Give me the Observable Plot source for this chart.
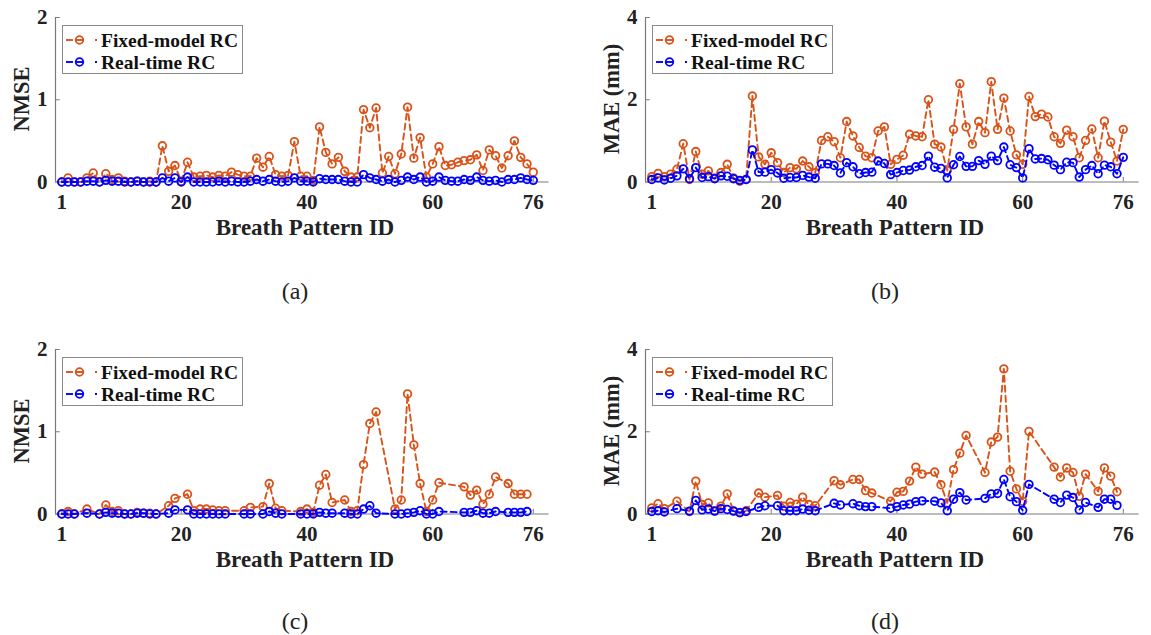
<!DOCTYPE html>
<html>
<head>
<meta charset="utf-8">
<script src="https://cdn.jsdelivr.net/npm/d3@7"></script>
<script src="https://cdn.jsdelivr.net/npm/@observablehq/plot@0.6"></script>
<style>
  html, body { margin: 0; padding: 0; background: #fff; }
  #wrap { position: relative; width: 1151px; height: 635px; background: #fff; overflow: hidden;
          font-family: "Liberation Serif", "Times New Roman", serif; color: #222; }
  .panel { position: absolute; width: 575px; height: 303px; }
  .panel svg.plot { position: absolute; left: 0; top: 0; }
  .ytitle { position: absolute; font-weight: bold; font-size: 22.5px; white-space: nowrap;
            transform: translate(-50%, -50%) rotate(-90deg); }
  .xtitle { position: absolute; font-weight: bold; font-size: 23px; white-space: nowrap;
            transform: translate(-50%, -50%); }
  .letter { position: absolute; font-size: 24px; line-height: 1; white-space: nowrap; transform: translate(-50%, -50%); }
  .legend { position: absolute; }
</style>
</head>
<body>
<div id="wrap"></div>
<script>
// ---------------- data ----------------
const xTicks = [1, 20, 40, 60, 76];
const nmseTicks = [0, 1, 2];
const maeTicks = [0, 2, 4];

const idsAll = [1,2,3,4,5,6,7,8,9,10,11,12,13,14,15,16,17,18,19,20,21,22,23,24,25,26,27,28,29,30,
  31,32,33,34,35,36,37,38,39,40,41,42,43,44,45,46,47,48,49,50,51,52,53,54,55,56,57,58,59,60,
  61,62,63,64,65,66,67,68,69,70,71,72,73,74,75,76];

// (a) NMSE, all patterns
const nmseFixedA = [0.0,0.05,0.0,0.0,0.05,0.11,0.0,0.1,0.03,0.05,
  0.01,0.0,0.01,0.0,0.01,0.0,0.44,0.13,0.2,0.01,
  0.24,0.06,0.07,0.08,0.06,0.08,0.07,0.12,0.09,0.07,
  0.07,0.29,0.18,0.31,0.09,0.07,0.08,0.49,0.07,0.07,
  0.02,0.67,0.36,0.22,0.3,0.13,0.06,0.06,0.88,0.66,
  0.9,0.11,0.31,0.1,0.34,0.91,0.29,0.54,0.06,0.22,
  0.43,0.2,0.21,0.24,0.26,0.27,0.33,0.14,0.39,0.32,
  0.17,0.32,0.5,0.3,0.22,0.12];
const nmseRealA = [0.0,0.0,0.0,0.0,0.01,0.01,0.0,0.02,0.01,0.01,
  0.0,0.0,0.01,0.0,0.0,0.0,0.05,0.01,0.05,0.0,
  0.06,0.0,0.0,0.0,0.0,0.01,0.0,0.01,0.0,0.0,
  0.01,0.03,0.01,0.03,0.01,0.0,0.01,0.05,0.01,0.01,
  0.0,0.04,0.03,0.03,0.03,0.01,0.0,0.0,0.09,0.05,
  0.03,0.01,0.03,0.0,0.02,0.06,0.03,0.06,0.0,0.01,
  0.06,0.02,0.01,0.01,0.03,0.02,0.06,0.02,0.01,0.02,
  0.0,0.03,0.03,0.05,0.03,0.02];

// (b) MAE (mm), all patterns
const maeFixedB = [0.13,0.21,0.13,0.19,0.31,0.93,0.06,0.74,0.19,0.27,
  0.1,0.23,0.43,0.1,0.02,0.06,2.09,0.61,0.43,0.71,
  0.47,0.23,0.35,0.32,0.51,0.37,0.23,1.01,1.1,0.98,
  0.59,1.47,1.12,0.84,0.63,0.59,1.24,1.34,0.43,0.55,
  0.65,1.16,1.12,1.1,2.0,0.92,0.85,0.28,1.28,2.39,
  1.34,0.92,1.47,1.2,2.44,1.28,2.04,1.24,0.66,0.43,
  2.08,1.59,1.65,1.58,1.1,0.94,1.26,1.1,0.59,1.01,
  1.29,0.59,1.48,0.97,0.51,1.28];
const maeRealB = [0.06,0.1,0.05,0.09,0.15,0.32,0.08,0.35,0.11,0.13,
  0.08,0.15,0.14,0.08,0.04,0.06,0.78,0.24,0.24,0.3,
  0.22,0.09,0.11,0.11,0.16,0.12,0.09,0.44,0.44,0.4,
  0.22,0.47,0.37,0.2,0.23,0.24,0.51,0.45,0.18,0.23,
  0.28,0.29,0.37,0.4,0.63,0.36,0.33,0.1,0.42,0.62,
  0.38,0.38,0.52,0.43,0.63,0.52,0.85,0.42,0.35,0.1,
  0.81,0.56,0.57,0.54,0.41,0.3,0.48,0.47,0.12,0.3,
  0.4,0.2,0.41,0.37,0.2,0.6];

// (c), (d): subset of patterns
const idsSub = [1,2,3,5,7,8,9,10,11,12,13,14,15,16,18,19,21,22,23,24,25,26,27,30,31,33,34,35,36,
  39,40,41,42,43,44,46,47,48,49,50,51,54,55,56,57,58,59,60,61,65,66,67,68,69,70,72,73,74,75];

const nmseFixedC = [0.0,0.03,0.0,0.06,0.0,0.11,0.03,0.04,0.0,0.0,0.02,0.01,0.01,0.0,0.1,0.19,
  0.24,0.04,0.06,0.06,0.05,0.04,0.04,0.04,0.08,0.09,0.37,0.07,0.04,
  0.03,0.06,0.02,0.35,0.48,0.14,0.17,0.03,0.04,0.6,1.1,1.24,0.06,0.17,1.46,0.84,0.37,0.03,0.17,0.38,
  0.33,0.23,0.29,0.12,0.24,0.45,0.37,0.24,0.24,0.24];
const nmseRealC = [0.0,0.0,0.0,0.01,0.0,0.02,0.01,0.01,0.0,0.0,0.01,0.01,0.0,0.0,0.01,0.05,
  0.05,0.0,0.0,0.0,0.0,0.0,0.0,0.0,0.0,0.0,0.03,0.01,0.0,
  0.0,0.0,0.0,0.02,0.01,0.01,0.01,0.0,0.0,0.06,0.1,0.01,0.0,0.0,0.01,0.02,0.04,0.0,0.0,0.03,
  0.02,0.02,0.04,0.01,0.01,0.03,0.02,0.02,0.02,0.03];

const maeFixedD = [0.15,0.25,0.13,0.31,0.06,0.8,0.23,0.27,0.08,0.19,0.49,0.08,0.04,0.08,0.51,0.41,
  0.45,0.19,0.28,0.24,0.41,0.23,0.2,0.81,0.71,0.84,0.84,0.57,0.51,
  0.31,0.53,0.55,0.8,1.14,0.97,1.02,0.71,0.27,1.08,1.48,1.91,1.01,1.75,1.87,3.53,1.04,0.61,0.31,2.01,
  1.14,0.9,1.12,1.01,0.43,0.97,0.55,1.12,0.92,0.54];
const maeRealD = [0.06,0.08,0.05,0.13,0.07,0.33,0.1,0.12,0.07,0.13,0.11,0.07,0.03,0.06,0.16,0.2,
  0.2,0.08,0.08,0.08,0.12,0.09,0.08,0.26,0.22,0.25,0.2,0.18,0.18,
  0.14,0.18,0.22,0.24,0.3,0.32,0.31,0.27,0.08,0.36,0.52,0.34,0.38,0.49,0.5,0.84,0.42,0.3,0.09,0.72,
  0.36,0.28,0.46,0.4,0.1,0.28,0.16,0.36,0.36,0.21];

const seriesNames = ["Fixed-model RC", "Real-time RC"];
const ORANGE = "#D95319";
const BLUE = "#0000FF";
const AXIS = "#7a7a7a";

// ---------------- drawing ----------------
function makePlot(ids, fixed, real, ymax, yticks) {
  const F = ids.map((id, i) => ({id, v: fixed[i]}));
  const R = ids.map((id, i) => ({id, v: real[i]}));
  return Plot.plot({
    width: 575, height: 242,
    marginLeft: 55, marginRight: 26.5, marginTop: 17, marginBottom: 60.5,
    x: {domain: [0, 78.5]},
    y: {domain: [0, ymax]},
    style: {fontFamily: "'Liberation Serif', 'Times New Roman', serif", fontWeight: "bold",
            fontSize: "21px", color: "#222", background: "transparent", overflow: "visible"},
    marks: [
      Plot.axisX({ticks: xTicks, tickSize: 0, tickPadding: 12, tickFormat: d => String(d), label: null}),
      Plot.axisY({ticks: yticks, tickSize: 0, tickPadding: 8, tickFormat: d => String(d), label: null}),
      Plot.ruleY([0], {stroke: AXIS, strokeWidth: 1.2}),
      Plot.ruleX([0], {stroke: AXIS, strokeWidth: 1.2}),
      Plot.ruleX(xTicks, {x: d => d, y1: 0, y2: ymax * 0.028, stroke: AXIS}),
      Plot.ruleY(yticks, {y: d => d, x1: 0, x2: 0.75, stroke: AXIS}),
      Plot.line(F, {x: "id", y: "v", stroke: ORANGE, strokeWidth: 1.9, strokeDasharray: "6,4"}),
      Plot.dot(F, {x: "id", y: "v", r: 3.8, stroke: ORANGE, strokeWidth: 1.8, fill: "none"}),
      Plot.line(R, {x: "id", y: "v", stroke: BLUE, strokeWidth: 1.9, strokeDasharray: "6,4"}),
      Plot.dot(R, {x: "id", y: "v", r: 3.8, stroke: BLUE, strokeWidth: 1.8, fill: "none"})
    ]
  });
}

function legendSvg() {
  const ns = "http://www.w3.org/2000/svg";
  const svg = document.createElementNS(ns, "svg");
  svg.setAttribute("width", 181); svg.setAttribute("height", 49);
  svg.style.overflow = "visible";
  const add = (tag, attrs, text) => {
    const el = document.createElementNS(ns, tag);
    for (const k in attrs) el.setAttribute(k, attrs[k]);
    if (text) el.textContent = text;
    svg.appendChild(el);
  };
  add("rect", {x: 0.5, y: 0.5, width: 180, height: 48, fill: "#fff", stroke: "#8a8a8a", "stroke-width": 1});
  [ORANGE, BLUE].forEach((c, i) => {
    const cy = 15 + i * 22;
    add("line", {x1: 4, x2: 11, y1: cy, y2: cy, stroke: c, "stroke-width": 1.9});
    add("line", {x1: 14, x2: 21, y1: cy, y2: cy, stroke: c, "stroke-width": 1.9});
    add("circle", {cx: 17.5, cy: cy, r: 3.8, fill: "none", stroke: c, "stroke-width": 1.8});
    add("line", {x1: 33, x2: 35, y1: cy, y2: cy, stroke: c, "stroke-width": 1.9});
    add("text", {x: 39, y: cy + 6.5, "font-family": "'Liberation Serif', 'Times New Roman', serif",
                 "font-weight": "bold", "font-size": "19.5px", fill: "#111"}, seriesNames[i]);
  });
  return svg;
}

const panels = [
  {left: 0,   top: 0,   ids: idsAll, f: nmseFixedA, r: nmseRealA, ymax: 2, ticks: nmseTicks, ylab: "NMSE", letter: "(a)", ly: 291},
  {left: 590, top: 0,   ids: idsAll, f: maeFixedB,  r: maeRealB,  ymax: 4, ticks: maeTicks,  ylab: "MAE (mm)", letter: "(b)", ly: 291},
  {left: 0,   top: 332, ids: idsSub, f: nmseFixedC, r: nmseRealC, ymax: 2, ticks: nmseTicks, ylab: "NMSE", letter: "(c)", ly: 289},
  {left: 590, top: 332, ids: idsSub, f: maeFixedD,  r: maeRealD,  ymax: 4, ticks: maeTicks,  ylab: "MAE (mm)", letter: "(d)", ly: 289}
];

const wrap = document.getElementById("wrap");
for (const p of panels) {
  const div = document.createElement("div");
  div.className = "panel";
  div.style.left = p.left + "px";
  div.style.top = p.top + "px";
  const svg = makePlot(p.ids, p.f, p.r, p.ymax, p.ticks);
  svg.classList.add("plot");
  div.appendChild(svg);

  const yt = document.createElement("div");
  yt.className = "ytitle"; yt.textContent = p.ylab;
  yt.style.left = "22px"; yt.style.top = "99px";
  div.appendChild(yt);

  const xt = document.createElement("div");
  xt.className = "xtitle"; xt.textContent = "Breath Pattern ID";
  xt.style.left = "305px"; xt.style.top = "228px";
  div.appendChild(xt);

  const lt = document.createElement("div");
  lt.className = "letter"; lt.textContent = p.letter;
  lt.style.left = "295px"; lt.style.top = p.ly + "px";
  div.appendChild(lt);

  const lg = document.createElement("div");
  lg.className = "legend";
  lg.style.left = "62px"; lg.style.top = "25px";
  lg.appendChild(legendSvg());
  div.appendChild(lg);

  wrap.appendChild(div);
}
</script>
</body>
</html>
